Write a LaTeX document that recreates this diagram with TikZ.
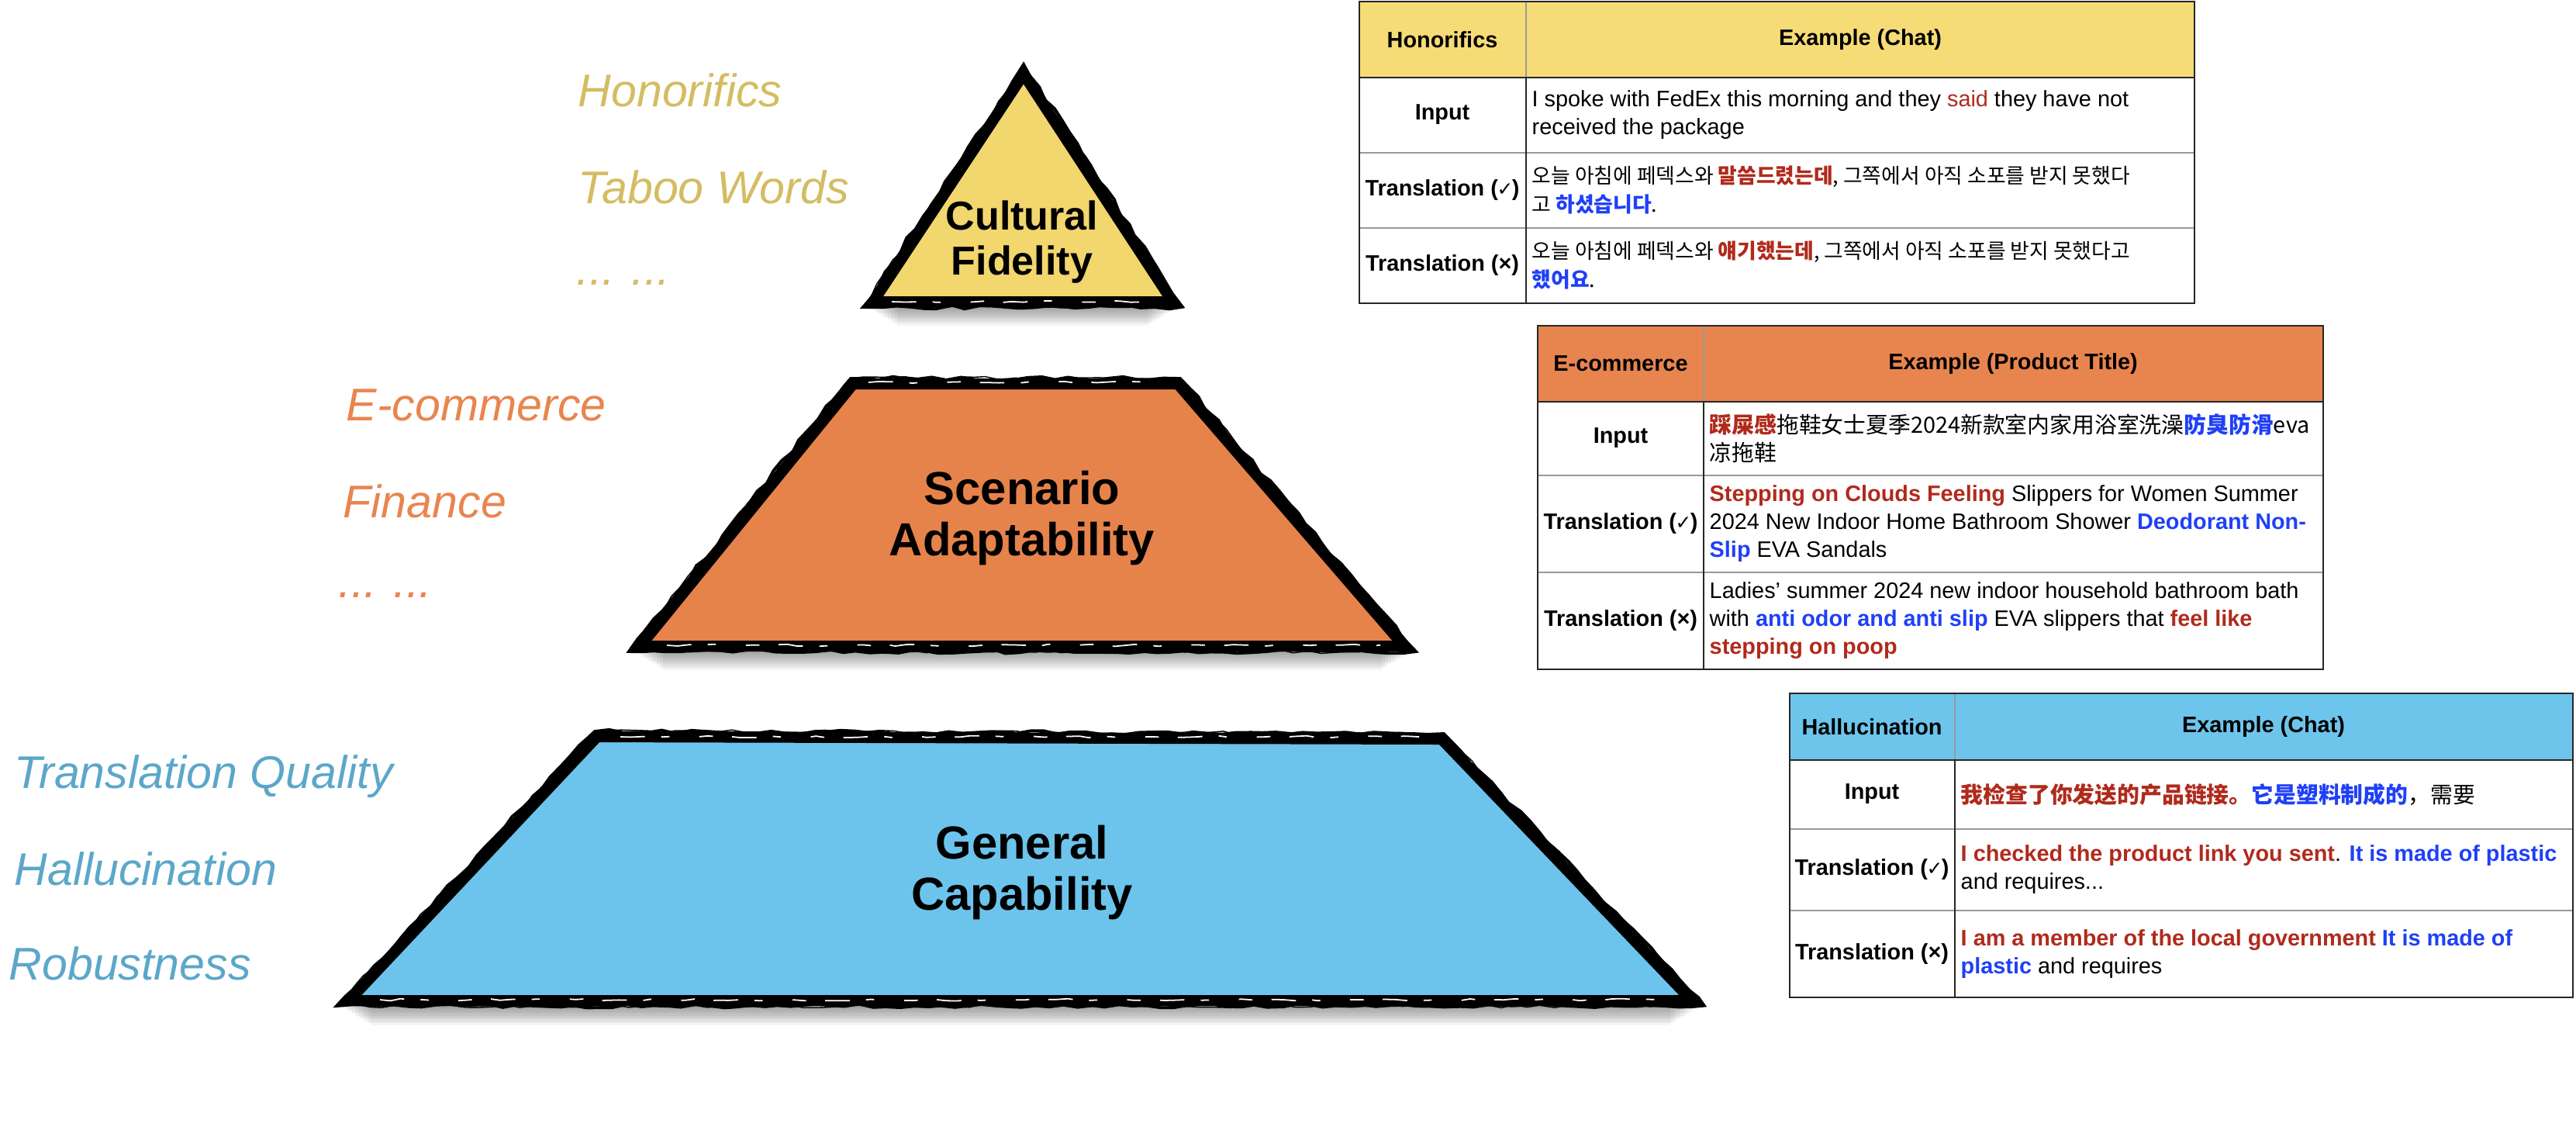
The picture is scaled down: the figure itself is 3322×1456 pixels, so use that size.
\documentclass[tikz,border=0pt]{standalone}
\usepackage{fontspec}
\setmainfont{Liberation Sans}
\newfontfamily\kofont{Noto Sans CJK KR}[Scale=0.93]
\newfontfamily\zhfont{Noto Sans CJK SC}
\newfontfamily\dvfont{DejaVu Sans}[Scale=0.86]
\usetikzlibrary{decorations.pathmorphing}

\definecolor{cfyellow}{HTML}{F2D66E}
\definecolor{saorange}{HTML}{E6834B}
\definecolor{gcblue}{HTML}{6CC4EC}
\definecolor{cftext}{HTML}{D4BC62}
\definecolor{satext}{HTML}{E9854F}
\definecolor{gctext}{HTML}{5BA7CA}
\definecolor{hdyellow}{HTML}{F6DC76}
\definecolor{hdorange}{HTML}{E8854F}
\definecolor{hdblue}{HTML}{6DC5EC}
\definecolor{hlred}{HTML}{B02A1C}
\definecolor{hlblue}{HTML}{1F40F7}

\newcommand{\tabfont}{\fontsize{8.2}{10.3}\selectfont}
\newcommand{\hlr}[1]{\textcolor{hlred}{\textbf{#1}}}
\newcommand{\hlb}[1]{\textcolor{hlblue}{\textbf{#1}}}
\newcommand{\ok}{{\dvfont\kern-0.4pt✓\kern-0.4pt}}

% one brush-stroked level of the pyramid: colour, corner path
\newcommand{\brushlevel}[2]{%
  \fill[#1] #2 -- cycle;
  \begin{scope}
    \clip #2 -- cycle;
    \draw[brush] #2 -- cycle;
  \end{scope}
  \draw[rough] #2 -- cycle;
  \draw[rough, line width=0.4pt] #2 -- cycle;
}
% dry-brush streak along a base: left x, right x, y
\newcommand{\streak}[3]{%
  \draw[white, line width=0.5pt, decorate,
    decoration={random steps, segment length=4pt, amplitude=0.4pt},
    dash pattern=on 9pt off 6pt on 3pt off 11pt on 5pt off 7pt] (#1,#3) -- (#2,#3);
}
% soft shadow under a level: left x, right x, base y
\newcommand{\levelshadow}[3]{%
  \foreach \k in {0,...,9}
    \fill[black, opacity=0.045] (#1+8+\k*4,#3-6) rectangle (#2-8-\k*4,#3+2+\k*2.4);
}

\begin{document}
\begin{tikzpicture}[x=0.01cm,y=-0.01cm,
  brush/.style={draw=black, line width=2.8mm, line join=miter},
  rough/.style={draw=black, line width=1.1pt, decorate,
    decoration={random steps, segment length=5pt, amplitude=0.7pt}},
  lvl/.style={align=center, inner sep=0pt, font=\fontsize{17}{19}\selectfont\bfseries},
  side/.style={anchor=base west, inner sep=0pt, font=\fontsize{16.8}{20}\selectfont\itshape},
  head/.style={inner sep=0pt, font=\tabfont\bfseries},
  rowname/.style={inner sep=0pt, align=center, font=\tabfont\bfseries},
  cell/.style={anchor=west, inner sep=0pt, align=left, font=\tabfont},
  kocell/.style={cell, font=\tabfont\kofont},
  zhcell/.style={cell, font=\tabfont\zhfont},
  frame/.style={draw=black!85, line width=0.7pt},
  rule/.style={draw=black!40, line width=0.6pt}
  ]
\useasboundingbox (0,0) rectangle (3322,1456);
\pgfmathsetseed{42}

% pyramid
\levelshadow{1113}{1525}{396}
\levelshadow{811}{1826}{840}
\levelshadow{434}{2198}{1298}
\brushlevel{cfyellow}{(1320,83) -- (1525,396) -- (1113,396)}
\brushlevel{saorange}{(1097,488) -- (1522,488) -- (1826,840) -- (811,840)}
\brushlevel{gcblue}{(767,943) -- (1862,946) -- (2198,1297) -- (434,1297)}
\streak{1150}{1490}{389}
\streak{860}{1780}{832}
\streak{490}{2140}{1289}
\streak{1120}{1500}{493}
\streak{800}{1830}{950}

\node[lvl, font=\fontsize{14.8}{16.5}\selectfont\bfseries] (cf) at (1318,312) {Cultural\\Fidelity};
\node[lvl] (sa) at (1318,668) {Scenario\\Adaptability};
\node[lvl] (gc) at (1318,1125) {General\\Capability};

% side labels
\node[side, text=cftext] (hon) at (745,137) {Honorifics};
\node[side, text=cftext] (tab) at (745,262) {Taboo Words};
\node[side, text=cftext] (cfdots) at (743,367) {... ...};
\node[side, text=satext] (ecom) at (446,542) {E-commerce};
\node[side, text=satext] (fin) at (442,667) {Finance};
\node[side, text=satext] (sadots) at (436,770) {... ...};
\node[side, text=gctext] (tq) at (18,1016) {Translation Quality};
\node[side, text=gctext] (hal) at (18,1141) {Hallucination};
\node[side, text=gctext] (rob) at (11,1263) {Robustness};

% table: honorifics
\fill[hdyellow] (1753,2) rectangle (2830,100);
\draw[rule] (1753,197) -- (2830,197) (1753,294) -- (2830,294) (1968,2) -- (1968,100);
\draw[frame] (1753,100) -- (2830,100) (1968,100) -- (1968,391);
\draw[frame] (1753,2) rectangle (2830,391);
\node[head] (hon-h1) at (1860,51) {Honorifics};
\node[head] (hon-h2) at (2399,51) {Example (Chat)};
\node[rowname] (hon-r1) at (1860,148) {Input};
\node[rowname] (hon-r2) at (1860,245) {Translation (\ok)};
\node[rowname] (hon-r3) at (1860,342) {Translation (×)};
\node[cell] (hon-c1) at (1975,148) {I spoke with FedEx this morning and they \textcolor{hlred}{said} they have not\\received the package};
\node[kocell] (hon-c2) at (1975,245) {오늘 아침에 페덱스와 \hlr{말씀드렸는데}, 그쪽에서 아직 소포를 받지 못했다\\고 \hlb{하셨습니다}.};
\node[kocell] (hon-c3) at (1975,342) {오늘 아침에 페덱스와 \hlr{얘기했는데}, 그쪽에서 아직 소포를 받지 못했다고\\\hlb{했어요}.};

% table: e-commerce
\fill[hdorange] (1983,420) rectangle (2996,518);
\draw[rule] (1983,613) -- (2996,613) (1983,738) -- (2996,738) (2197,420) -- (2197,518);
\draw[frame] (1983,518) -- (2996,518) (2197,518) -- (2197,863);
\draw[frame] (1983,420) rectangle (2996,863);
\node[head] (eco-h1) at (2090,469) {E-commerce};
\node[head] (eco-h2) at (2596,469) {Example (Product Title)};
\node[rowname] (eco-r1) at (2090,565) {Input};
\node[rowname] (eco-r2) at (2090,675) {Translation (\ok)};
\node[rowname] (eco-r3) at (2090,800) {Translation (×)};
\node[zhcell] (eco-c1) at (2204,565) {\hlr{踩屎感}拖鞋女士夏季2024新款室内家用浴室洗澡\hlb{防臭防滑}eva\\凉拖鞋};
\node[cell] (eco-c2) at (2204,675) {\hlr{Stepping on Clouds Feeling} Slippers for Women Summer\\2024 New Indoor Home Bathroom Shower \hlb{Deodorant Non-}\\\hlb{Slip} EVA Sandals};
\node[cell] (eco-c3) at (2204,800) {Ladies' summer 2024 new indoor household bathroom bath\\with \hlb{anti odor and anti slip} EVA slippers that \hlr{feel like}\\\hlr{stepping on poop}};

% table: hallucination
\fill[hdblue] (2308,894) rectangle (3318,980);
\draw[rule] (2308,1069) -- (3318,1069) (2308,1174) -- (3318,1174) (2521,894) -- (2521,980);
\draw[frame] (2308,980) -- (3318,980) (2521,980) -- (2521,1286);
\draw[frame] (2308,894) rectangle (3318,1286);
\node[head] (hal-h1) at (2414,937) {Hallucination};
\node[head] (hal-h2) at (2919,937) {Example (Chat)};
\node[rowname] (hal-r1) at (2414,1024) {Input};
\node[rowname] (hal-r2) at (2414,1121) {Translation (\ok)};
\node[rowname] (hal-r3) at (2414,1230) {Translation (×)};
\node[zhcell] (hal-c1) at (2528,1024) {\hlr{我检查了你发送的产品链接。}\hlb{它是塑料制成的}，需要};
\node[cell] (hal-c2) at (2528,1121) {\hlr{I checked the product link you sent}. \hlb{It is made of plastic}\\and requires...};
\node[cell] (hal-c3) at (2528,1230) {\hlr{I am a member of the local government} \hlb{It is made of}\\\hlb{plastic} and requires};
\end{tikzpicture}
\end{document}
